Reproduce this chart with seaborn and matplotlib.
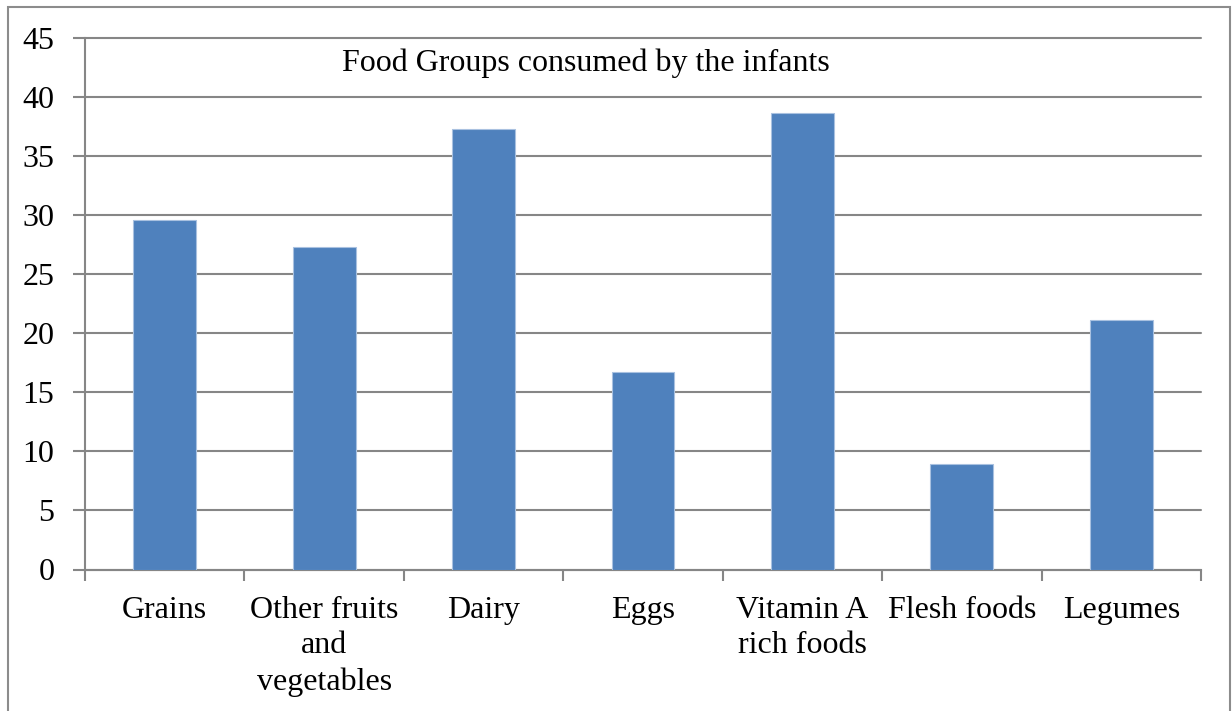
import matplotlib
matplotlib.use("Agg")
import matplotlib.pyplot as plt
from matplotlib.patches import Rectangle
import seaborn as sns
import pandas as pd
import numpy as np

categories = ["Grains", "Other fruits\nand\nvegetables", "Dairy", "Eggs",
              "Vitamin A\nrich foods", "Flesh foods", "Legumes"]
values = [29.6, 27.3, 37.3, 16.7, 38.7, 8.9, 21.1]
y_ticks = [0, 5, 10, 15, 20, 25, 30, 35, 40, 45]
title = "Food Groups consumed by the infants"

sns.set_theme(style="white")
plt.rcParams["font.family"] = ["Liberation Serif", "DejaVu Serif"]
plt.rcParams["text.color"] = "black"
plt.rcParams["xtick.labelcolor"] = "black"
plt.rcParams["ytick.labelcolor"] = "black"

W, H = 1232, 711
fig = plt.figure(figsize=(W / 100, H / 100), dpi=100)
ax = fig.add_axes([85 / W, (H - 569.5) / H, (1201 - 85) / W, (569.5 - 38.3) / H])

df = pd.DataFrame({"group": categories, "pct": values})
sns.barplot(data=df, x="group", y="pct", color="#4F81BD", saturation=1,
            width=0.395, edgecolor="#A9C1E0", linewidth=0.8, ax=ax, zorder=3)

grid_c = "#868686"
ax.set_xlim(-0.5, len(categories) - 0.5)
ax.set_ylim(0, 45)
ax.set_yticks(y_ticks)
ax.set_yticklabels([str(t) for t in y_ticks], fontsize=23, color="black")
ax.yaxis.grid(True, color=grid_c, linewidth=1.5, zorder=0)
for gl in ax.get_ygridlines():
    gl.set_clip_on(False)
ax.set_axisbelow(True)
ax.tick_params(axis="y", length=9, width=1.5, color=grid_c, pad=13, left=True)

ax.set_xticks(range(len(categories)))
ax.set_xticklabels(categories, fontsize=23, linespacing=1.3, color="black")
ax.set_xticks(np.arange(-0.5, len(categories)), minor=True)
ax.tick_params(axis="x", which="major", length=0, pad=19)
ax.tick_params(axis="x", which="minor", length=8, width=1.5, color=grid_c,
               bottom=True, direction="out")

for side in ["top", "right"]:
    ax.spines[side].set_visible(False)
for side in ["left", "bottom"]:
    ax.spines[side].set_color(grid_c)
    ax.spines[side].set_linewidth(1.5)

ax.set_xlabel("")
ax.set_ylabel("")
ax.text((586 - 85) / (1201 - 85), (569.5 - 63) / (569.5 - 38.3), title,
        transform=ax.transAxes, ha="center", va="center",
        fontsize=23, color="black")

fig.patches.append(Rectangle((8 / W, -0.05), (1230 - 8) / W, 1.05 - 7 / H,
                             transform=fig.transFigure, fill=False,
                             edgecolor="#8C8C8C", linewidth=1.5))

fig.savefig("out.png", dpi=100)
